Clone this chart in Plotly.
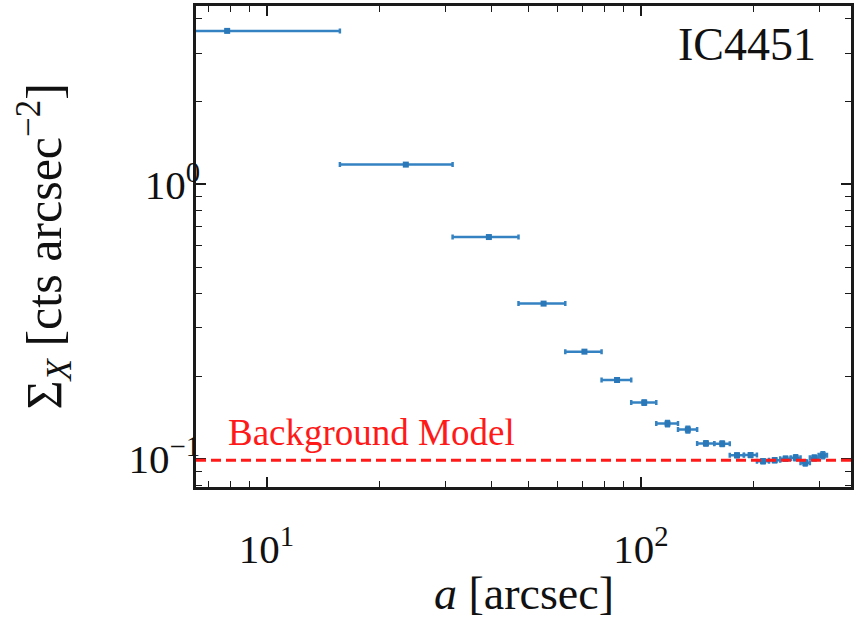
import math
import plotly.graph_objects as go

# ---- data ----
a_center = [7.85, 23.55, 39.25, 54.95, 70.65, 86.35, 102.05, 117.75, 133.45, 149.15,
            164.85, 180.55, 196.25, 211.95, 227.65, 243.35, 259.05, 274.75, 290.45, 306.15]
a_halfwidth = [7.85, 7.85, 7.85, 7.85, 7.85, 7.85, 7.85, 7.85, 7.85, 7.85,
               7.85, 7.85, 7.85, 7.85, 7.85, 7.85, 7.85, 7.85, 7.85, 7.85]
sigma_x = [3.62, 1.18, 0.643, 0.368, 0.246, 0.194, 0.1605, 0.1346, 0.128, 0.114,
           0.1137, 0.1032, 0.1034, 0.0982, 0.099, 0.1003, 0.1011, 0.0969, 0.101, 0.1032]
sigma_err = [0.04, 0.012, 0.006, 0.004, 0.003, 0.003, 0.0035, 0.0035, 0.0035, 0.0025,
             0.0025, 0.002, 0.002, 0.002, 0.002, 0.002, 0.0025, 0.0025, 0.0025, 0.003]
background_level = 0.099
galaxy_name = "IC4451"

x_major = [10, 100]
x_major_text = ["10<sup>1</sup>", "10<sup>2</sup>"]
x_minor = [7, 8, 9, 20, 30, 40, 50, 60, 70, 80, 90, 200, 300]
y_major = [0.1, 1]
y_major_text = ["10<sup>\u22121</sup>", "10<sup>0</sup>"]
y_minor = [0.08, 0.09, 0.2, 0.3, 0.4, 0.5, 0.6, 0.7, 0.8, 0.9, 2, 3, 4]

x_range = [6.48, 364]
y_range = [0.0791, 4.46]

BLUE = "#3482c2"
FONT = "Liberation Serif"

fig = go.Figure()
fig.add_trace(go.Scatter(
    x=a_center, y=sigma_x, mode="markers",
    marker=dict(symbol="square", size=6, color="#2b78b8"),
    error_x=dict(type="data", array=a_halfwidth, arrayminus=a_halfwidth,
                 color=BLUE, thickness=2.5, width=2.5),
    error_y=dict(type="data", array=sigma_err, color=BLUE, thickness=1.6, width=2.5),
    showlegend=False,
))

fig.add_shape(type="line", xref="paper", x0=0, x1=1, yref="y",
              y0=background_level, y1=background_level,
              line=dict(color="#ff1a1a", width=2.8, dash="10px,5px"))

axis_common = dict(
    type="log", showgrid=False, zeroline=False, automargin=False,
    showline=True, linecolor="#1a1a1a", linewidth=2.5, mirror="allticks",
    ticks="inside", ticklen=10, tickwidth=1.5, tickcolor="#1a1a1a",
    tickfont=dict(family=FONT, size=41, color="#111"),
    tickmode="array",
)

fig.update_xaxes(
    **axis_common,
    range=[math.log10(x_range[0]), math.log10(x_range[1])],
    tickvals=x_major, ticktext=x_major_text,
    ticklabelstandoff=24,
    minor=dict(ticks="inside", ticklen=6, tickwidth=1.2, tickcolor="#1a1a1a",
               tickmode="array", tickvals=x_minor, showgrid=False),
)
fig.update_yaxes(
    **axis_common,
    range=[math.log10(y_range[0]), math.log10(y_range[1])],
    tickvals=y_major, ticktext=y_major_text,
    ticklabelstandoff=-15,
    minor=dict(ticks="inside", ticklen=6, tickwidth=1.2, tickcolor="#1a1a1a",
               tickmode="array", tickvals=y_minor, showgrid=False),
)

fig.add_annotation(text="<i>a</i> [arcsec]", xref="paper", yref="paper",
                   x=0.5, y=-0.222, xanchor="center", yanchor="middle",
                   showarrow=False, font=dict(family=FONT, size=46, color="#111"))
fig.add_annotation(text="\u03a3<sub><i>X</i></sub> [cts arcsec<sup>\u22122</sup>]",
                   xref="paper", yref="paper", x=-0.232, y=0.5,
                   xanchor="center", yanchor="middle", textangle=-90,
                   showarrow=False, font=dict(family=FONT, size=50, color="#111"))
fig.add_annotation(text=galaxy_name, xref="paper", yref="paper",
                   x=0.9496, y=0.919, xanchor="right", yanchor="middle",
                   showarrow=False, font=dict(family=FONT, size=46, color="#111"))
fig.add_annotation(text="Background Model", xref="paper", yref="paper",
                   x=0.046, y=0.113, xanchor="left", yanchor="middle",
                   showarrow=False, font=dict(family=FONT, size=37, color="#ff1a1a"))

fig.update_layout(
    width=854, height=619,
    margin=dict(l=196, r=3, t=6, b=131.5),
    paper_bgcolor="white", plot_bgcolor="white",
)

fig.write_html(
    "out.html",
    config={"displayModeBar": False},
    post_script="document.body.style.margin='0';document.body.style.padding='0';",
)
